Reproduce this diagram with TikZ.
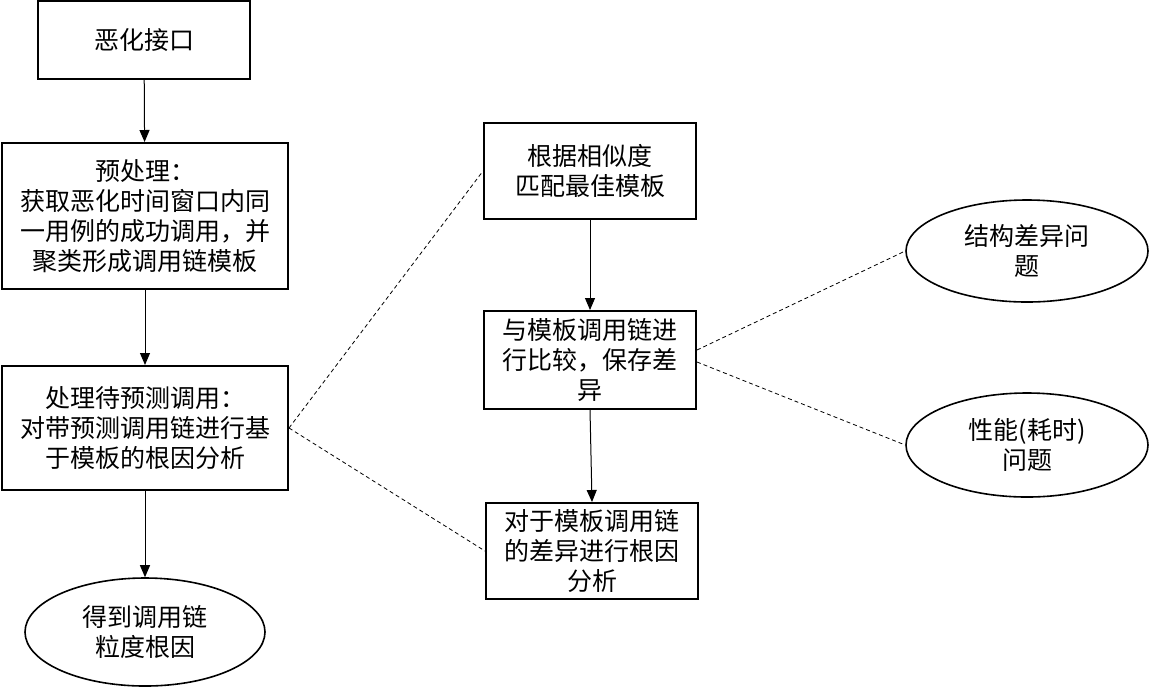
\documentclass[tikz,border=0pt]{standalone}
\usepackage{fontspec}
\setmainfont{Noto Sans CJK SC}
\usetikzlibrary{positioning, arrows.meta, shapes.geometric}

\tikzset{
  stepbox/.style={draw, line width=1pt, align=center, inner sep=2pt,
                  font=\fontsize{12.5}{15}\selectfont},
  endoval/.style={draw, ellipse, line width=0.8pt, align=center, inner sep=0pt,
                  font=\fontsize{12.5}{15}\selectfont},
  flow/.style={-{Triangle[length=6pt, width=5pt]}, line width=0.5pt},
  link/.style={dashed, dash pattern=on 2pt off 1.5pt, line width=0.4pt}
}

\begin{document}
\begin{tikzpicture}[x=0.5pt, y=-0.5pt]
  \useasboundingbox (0,0) rectangle (1149,687);

  % left column
  \node[stepbox, minimum width=106pt, minimum height=39pt] (bad) at (144,40) {恶化接口};
  \node[stepbox, minimum width=143pt, minimum height=73pt] (pre) at (145,216)
      {预处理：\\获取恶化时间窗口内同\\一用例的成功调用，并\\聚类形成调用链模板};
  \node[stepbox, minimum width=143pt, minimum height=62pt] (proc) at (145,428)
      {处理待预测调用：\\对带预测调用链进行基\\于模板的根因分析};
  \node[endoval, minimum width=120pt, minimum height=54pt] (cause) at (145,632)
      {得到调用链\\粒度根因};

  % middle column
  \node[stepbox, minimum width=106pt, minimum height=48pt] (match) at (590,171)
      {根据相似度\\匹配最佳模板};
  \node[stepbox, minimum width=106pt, minimum height=49pt] (diff) at (590,360)
      {与模板调用链进\\行比较，保存差\\异};
  \node[stepbox, minimum width=106pt, minimum height=48pt] (anal) at (592,551)
      {对于模板调用链\\的差异进行根因\\分析};

  % right column
  \node[endoval, minimum width=121pt, minimum height=51pt] (struct) at (1027,251)
      {结构差异问\\题};
  \node[endoval, minimum width=121pt, minimum height=52pt] (perf) at (1027,445)
      {性能(耗时)\\问题};

  \draw[flow] (bad) -- (pre);
  \draw[flow] (pre) -- (proc);
  \draw[flow] (proc) -- (cause);
  \draw[flow] (match) -- (diff);
  \draw[flow] (diff.south) -- (anal.north);

  \draw[link] (proc.east) -- (match.west);
  \draw[link] (proc.east) -- (anal.west);
  \draw[link] ([yshift=5pt]diff.east) -- (struct.west);
  \draw[link] ([yshift=-1pt]diff.east) -- (perf.west);
\end{tikzpicture}
\end{document}
